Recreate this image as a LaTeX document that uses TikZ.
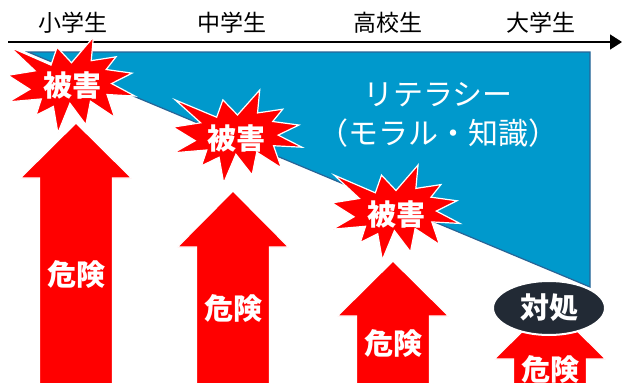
\documentclass[tikz,border=0pt]{standalone}
\usepackage{fontspec}
\newfontfamily\jp{Noto Sans CJK JP}
\usetikzlibrary{shapes.geometric,arrows.meta}
\definecolor{litblue}{RGB}{0,153,204}
\definecolor{litedge}{RGB}{40,100,150}
\definecolor{navy}{RGB}{34,42,53}
\newcommand\explo[4]{%
  \begin{scope}[shift={(#1,#2)},xscale=#3,yscale=#4]
    \path[redshape] (50,26.85) -- (67.23,0) -- (65.53,24.65) -- (85.09,20.63)
      -- (77.32,33.87) -- (97.67,37.67) -- (81.51,48.50) -- (100,61.53)
      -- (77.95,59.92) -- (84.00,83.77) -- (64.91,66.93) -- (61.33,91.38)
      -- (48.76,69.14) -- (39.28,100) -- (35.72,72.35) -- (22.05,81.56)
      -- (26.24,64.52) -- (0.63,67.53) -- (17.23,54.51) -- (0,39.88)
      -- (21.42,35.26) -- (1.71,10.63) -- (33.85,29.26) -- (38.67,10.63) -- cycle;
  \end{scope}}
\newcommand\uparrowshape[4]{% cx, tip, base, bottom
  \path[redshape] (#1,#2) -- (#1+55.5,#3) -- (#1+36.5,#3) -- (#1+36.5,#4)
    -- (#1-36.5,#4) -- (#1-36.5,#3) -- (#1-55.5,#3) -- cycle;}
\begin{document}
\begin{tikzpicture}[x=1pt,y=-1pt,
  lbl/.style={font=\jp\fontsize{23}{23}\selectfont, text=black, inner sep=0pt},
  wtxt/.style={font=\jp\bfseries\fontsize{29}{29}\selectfont, text=white, inner sep=0pt},
  redshape/.style={fill=red, draw=white, line width=1.2pt},
]
\useasboundingbox[fill=white] (0,0) rectangle (622,383);
% literacy region
\filldraw[fill=litblue, draw=litedge, line width=1.2pt] (28,52) -- (590,52) -- (590,287) -- cycle;
\node[wtxt, font=\jp\fontsize{30}{30}\selectfont] (lit1) at (438,95) {リテラシー};
\node[wtxt, font=\jp\fontsize{30}{30}\selectfont] (lit2) at (438,133) {（モラル・知識）};
% axis
\node[lbl] (s1) at (73,23) {小学生};
\node[lbl] (s2) at (232,23) {中学生};
\node[lbl] (s3) at (388,23) {高校生};
\node[lbl] (s4) at (541,23) {大学生};
\coordinate (axL) at (8,42);
\coordinate (axR) at (622,42);
\draw[line width=1.5pt, -{Triangle[length=12pt,width=15pt]}] (axL) -- (axR);
% explosions
\explo{8}{37}{1.27}{0.96}
\explo{173}{90}{1.29}{0.93}
\explo{332}{165}{1.28}{0.95}
\node[wtxt] (h1) at (72,85) {被害};
\node[wtxt] (h2) at (236,138) {被害};
\node[wtxt] (h3) at (396,214) {被害};
% danger arrows
\uparrowshape{76}{123}{178}{390}
\uparrowshape{233}{191}{247}{390}
\uparrowshape{393}{261}{316}{390}
\uparrowshape{550}{304}{359}{390}
\node[wtxt] (d1) at (76,274) {危険};
\node[wtxt] (d2) at (233,308) {危険};
\node[wtxt] (d3) at (393,343) {危険};
\node[wtxt, anchor=north] (d4) at (550,355) {危険};
% counter-measure
\node[ellipse, fill=navy, draw=white, line width=2pt, minimum width=112pt,
      minimum height=54pt, inner sep=0pt, wtxt] (taisho) at (549,308) {対処};
\end{tikzpicture}
\end{document}
